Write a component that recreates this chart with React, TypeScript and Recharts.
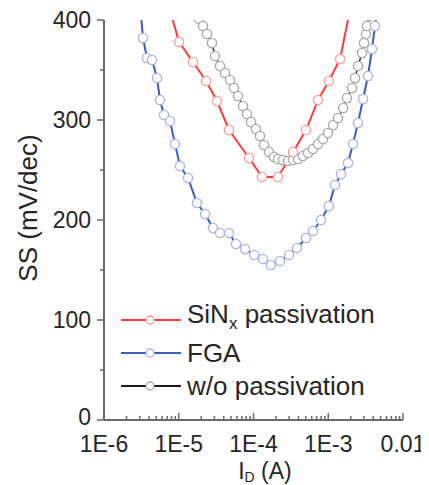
import React from "react";
import { LineChart, Line, XAxis, YAxis, Legend } from "recharts";

// drain current (A) and subthreshold swing (mV/dec)
const sinxCurrent = [
  6.97e-6, 1.01e-5, 1.55e-5, 2.32e-5, 3.25e-5, 4.7e-5, 8.71e-5, 1.3e-4,
  2.13e-4, 3.38e-4, 5.04e-4, 7.29e-4, 1.02e-3, 1.44e-3, 2.08e-3,
];
const sinxSS = [420, 378, 358, 339, 319, 290, 262, 243, 243, 268, 290, 320, 339, 361, 420];

const fgaCurrent = [
  3.13e-6, 3.32e-6, 3.76e-6, 4.39e-6, 5.12e-6, 5.61e-6, 6.35e-6, 7.64e-6, 8.91e-6,
  1.04e-5, 1.33e-5, 1.75e-5, 2.25e-5, 2.87e-5, 3.56e-5, 4.7e-5, 5.83e-5, 7.7e-5,
  1.02e-4, 1.34e-4, 1.71e-4, 2.26e-4, 2.99e-4, 3.82e-4, 5.04e-4, 6.25e-4, 8.0e-4,
  1.02e-3, 1.23e-3, 1.48e-3, 1.84e-3, 2.14e-3, 2.5e-3, 2.92e-3, 3.4e-3, 3.85e-3,
  4.22e-3, 4.49e-3,
];
const fgaSS = [
  405, 382, 362, 360, 342, 320, 305, 299, 276, 254, 242, 217, 206, 192, 187, 187, 176,
  171, 165, 161, 155, 159, 165, 172, 182, 189, 200, 214, 235, 246, 257, 276, 297, 321,
  344, 371, 394, 410,
];

const noPassCurrent = [
  1.87e-5, 2.11e-5, 2.39e-5, 2.78e-5, 3.05e-5, 3.56e-5, 4.16e-5, 4.85e-5, 5.48e-5,
  6.2e-5, 7.24e-5, 8.18e-5, 9.26e-5, 1.08e-4, 1.22e-4, 1.38e-4, 1.61e-4, 1.88e-4,
  2.13e-4, 2.48e-4, 2.89e-4, 3.38e-4, 3.94e-4, 4.59e-4, 5.36e-4, 6.25e-4, 7.29e-4,
  8.51e-4, 9.92e-4, 1.16e-3, 1.35e-3, 1.58e-3, 1.78e-3, 2.08e-3, 2.28e-3, 2.5e-3,
  2.83e-3, 3.01e-3, 3.2e-3, 3.3e-3, 3.51e-3,
];
const noPassSS = [
  401, 394, 386, 377, 364, 354, 347, 340, 332, 324, 314, 306, 298, 291, 284, 275, 268,
  263, 261, 260, 259, 260, 261, 264, 267, 271, 276, 281, 287, 295, 302, 312, 322, 332,
  342, 354, 367, 377, 386, 394, 404,
];

const decadeTicks = [1e-6, 1e-5, 1e-4, 1e-3, 1e-2];
const decadeLabels = ["1E-6", "1E-5", "1E-4", "1E-3", "0.01"];
const minorSteps = [2, 3, 4, 5, 6, 7, 8, 9];
const ssTicks = [0, 50, 100, 150, 200, 250, 300, 350, 400];
const rightTicks = [0, 1, 2, 3, 4, 5, 6];

const currentTicks = [
  ...decadeTicks,
  ...decadeTicks.slice(0, 4).flatMap((d) => minorSteps.map((m) => d * m)),
];

const toRows = (xs: number[], ys: number[]) => xs.map((i, k) => ({ i, ss: ys[k] }));

const font = "'Liberation Sans', Arial, Helvetica, sans-serif";
const axisColor = "#6a6a6a";
const textColor = "#262626";

const series = [
  { name: "SiNx passivation", data: toRows(sinxCurrent, sinxSS), line: "#ff3b3b", dot: "#ff9c9c", width: 2 },
  { name: "FGA", data: toRows(fgaCurrent, fgaSS), line: "#3c5cc2", dot: "#a9b3ea", width: 2 },
  { name: "w/o passivation", data: toRows(noPassCurrent, noPassSS), line: "#1c1c1c", dot: "#a8a8a8", width: 1.3 },
];
const drawOrder = ["w/o passivation", "FGA", "SiNx passivation"];

const BottomTick = ({ x, y, payload }: any) => {
  const k = decadeTicks.indexOf(payload.value);
  const len = k >= 0 ? 7 : 4;
  return (
    <g>
      <line x1={x} x2={x} y1={y} y2={y - len} stroke={axisColor} strokeWidth={1.5} />
      {k >= 0 && (
        <text x={x} y={y + 32} textAnchor="middle" fontSize={23} fill={textColor} fontFamily={font}>
          {decadeLabels[k]}
        </text>
      )}
    </g>
  );
};

const TopTick = ({ x, y, payload }: any) => {
  const len = decadeTicks.includes(payload.value) ? 7 : 4;
  return <line x1={x} x2={x} y1={y} y2={y + len} stroke={axisColor} strokeWidth={1.5} />;
};

const LeftTick = ({ x, y, payload }: any) => {
  const major = payload.value % 100 === 0;
  // the 0 label sits a little high so it clears the 1E-6 label below it
  const lift = payload.value === 0 ? 3 : 0;
  return (
    <g>
      <line x1={x - (major ? 7 : 4)} x2={x} y1={y} y2={y} stroke={axisColor} strokeWidth={1.5} />
      {major && (
        <text x={x - 13} y={y - lift} dy="0.34em" textAnchor="end" fontSize={23} fill={textColor} fontFamily={font}>
          {payload.value}
        </text>
      )}
    </g>
  );
};

const RightTick = ({ x, y }: any) => (
  <line x1={x - 6} x2={x} y1={y} y2={y} stroke={axisColor} strokeWidth={1.5} />
);

const LegendContent = ({ payload }: any) => {
  const items = series.map((s) => ({ s, p: (payload || []).find((p: any) => p.value === s.name) }));
  return (
    <div style={{ fontFamily: font, color: textColor }}>
      {items.map(({ s, p }) => (
        <div key={s.name} style={{ display: "flex", alignItems: "center", height: 33 }}>
          <svg width={60} height={12}>
            <line x1={0} x2={60} y1={6} y2={6} stroke={p ? p.color : s.line} strokeWidth={2} />
            <circle cx={29} cy={6} r={4} fill="#fff" stroke={s.dot} strokeWidth={1.3} />
          </svg>
          <span style={{ marginLeft: 6, fontSize: 26, lineHeight: "26px", whiteSpace: "nowrap" }}>
            {s.name === "SiNx passivation" ? (
              <>
                SiN<sub style={{ fontSize: 17 }}>x</sub> passivation
              </>
            ) : (
              s.name
            )}
          </span>
        </div>
      ))}
    </div>
  );
};

export default function App() {
  return (
    <div style={{ marginTop: -8, marginLeft: -8, width: 429, height: 485 }}>
      <LineChart width={429} height={485} margin={{ top: 20, right: 26, bottom: 0, left: 0 }}>
        <XAxis
          dataKey="i"
          type="number"
          scale="log"
          domain={[1e-6, 1e-2]}
          allowDataOverflow
          ticks={currentTicks}
          interval={0}
          height={65}
          tickSize={0}
          tickMargin={0}
          tickLine={false}
          tick={<BottomTick />}
          axisLine={{ stroke: axisColor, strokeWidth: 2 }}
          label={{
            content: () => (
              <text x={265} y={479} textAnchor="middle" fontSize={23} fill={textColor} fontFamily={font}>
                I<tspan fontSize={14} dy={2.5}>D</tspan>
                <tspan dy={-2.5}> (A)</tspan>
              </text>
            ),
          }}
        />
        <XAxis
          xAxisId="top"
          orientation="top"
          type="number"
          scale="log"
          domain={[1e-6, 1e-2]}
          allowDataOverflow
          ticks={currentTicks}
          interval={0}
          height={0}
          tickSize={0}
          tickMargin={0}
          tickLine={false}
          tick={<TopTick />}
          axisLine={{ stroke: axisColor, strokeWidth: 2 }}
        />
        <YAxis
          type="number"
          domain={[0, 400]}
          allowDataOverflow
          ticks={ssTicks}
          interval={0}
          width={104}
          tickSize={0}
          tickMargin={0}
          tickLine={false}
          tick={<LeftTick />}
          axisLine={{ stroke: axisColor, strokeWidth: 2 }}
          label={{
            content: () => (
              <text
                transform="translate(37,208) rotate(-90)"
                textAnchor="middle"
                fontSize={26}
                fill={textColor}
                fontFamily={font}
              >
                SS (mV/dec)
              </text>
            ),
          }}
        />
        <YAxis
          yAxisId="right"
          orientation="right"
          type="number"
          domain={[0, 6]}
          ticks={rightTicks}
          interval={0}
          width={0}
          tickSize={0}
          tickMargin={0}
          tickLine={false}
          tick={<RightTick />}
          axisLine={{ stroke: axisColor, strokeWidth: 2 }}
        />
        <Legend
          layout="vertical"
          align="center"
          verticalAlign="middle"
          content={<LegendContent />}
          wrapperStyle={{ left: 121, top: 303, width: 290, height: 100 }}
        />
        {drawOrder.map((name) => {
          const s = series.find((x) => x.name === name)!;
          return (
            <Line
              key={s.name}
              name={s.name}
              data={s.data}
              dataKey="ss"
              type="linear"
              stroke={s.line}
              strokeWidth={s.width}
              dot={{ r: 4.6, stroke: s.dot, strokeWidth: 1.4, fill: "#fff", fillOpacity: 1 }}
              activeDot={false}
              isAnimationActive={false}
            />
          );
        })}
      </LineChart>
    </div>
  );
}
